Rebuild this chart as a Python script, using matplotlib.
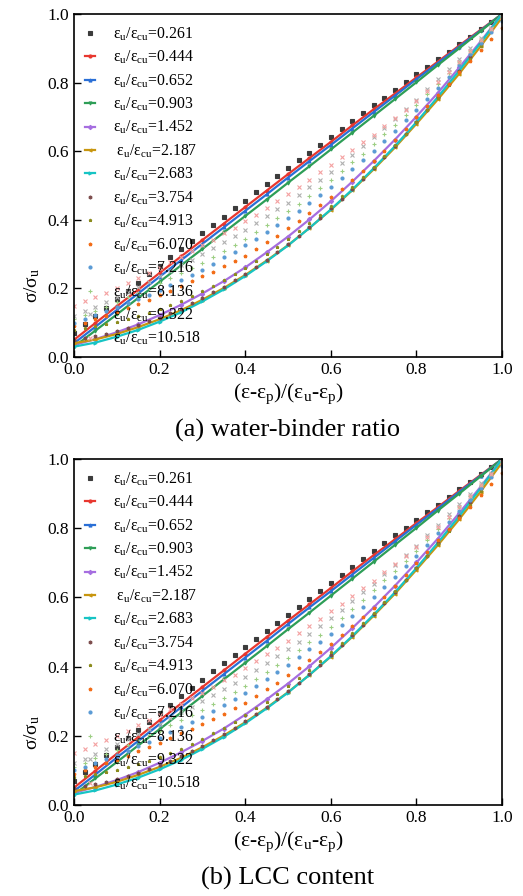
import numpy as np
import matplotlib.pyplot as plt

plt.rcParams['font.family'] = 'Liberation Serif'
plt.rcParams['mathtext.fontset'] = 'custom'
plt.rcParams['mathtext.rm'] = 'Liberation Serif'
plt.rcParams['mathtext.it'] = 'Liberation Serif:italic'

# strain ratios (legend) and normalised curves
ratios = ['0.261', '0.444', '0.652', '0.903', '1.452', '2.187', '2.683',
          '3.754', '4.913', '6.070', '7.216', '8.136', '9.322', '10.518']
x_coarse = np.linspace(0, 1, 21)   # series drawn as thick dotted lines
x_fine = np.linspace(0, 1, 41)     # series drawn as loose dots

y_0261 = [.070, .095, .119, .144, .168, .193, .217, .241, .266, .290, .314, .338, .362, .386,
          .409, .433, .456, .480, .503, .527, .550, .573, .596, .619, .642, .665, .688, .711,
          .734, .756, .779, .801, .824, .846, .868, .890, .912, .934, .956, .978, 1.0]
y_0444 = [.05, .099, .148, .196, .245, .293, .341, .389, .437, .485, .533, .58, .627, .675, .722, .768, .815, .861, .908, .954, 1.0]
y_0652 = [.04, .088, .137, .185, .234, .282, .33, .378, .426, .474, .523, .571, .618, .666, .714, .762, .81, .857, .905, .952, 1.0]
y_0903 = [.03, .077, .124, .172, .219, .267, .315, .363, .411, .459, .508, .556, .605, .654, .703, .752, .801, .851, .9, .95, 1.0]
y_1452 = [.035, .052, .072, .095, .122, .152, .185, .221, .261, .305, .351, .401, .454, .511, .571, .634, .701, .770, .844, .920, 1.0]
y_2187 = [.040, .051, .067, .087, .110, .136, .167, .201, .239, .281, .326, .376, .429, .486, .547, .611, .680, .751, .826, .906, .990]
y_2683 = [.030, .042, .059, .079, .103, .130, .162, .197, .236, .279, .325, .376, .430, .488, .550, .615, .685, .758, .835, .916, 1.0]
y_3754 = [.050, .055, .060, .067, .075, .083, .093, .104, .115, .128, .141, .156, .171, .188,
          .205, .223, .243, .263, .284, .307, .330, .354, .380, .406, .433, .461, .490, .520,
          .551, .583, .616, .650, .685, .721, .758, .796, .835, .875, .916, .957, 1.0]
y_4913 = [.080, .084, .089, .095, .102, .110, .118, .128, .139, .151, .163, .177, .191, .207,
          .223, .241, .259, .279, .299, .320, .343, .366, .390, .415, .441, .468, .496, .525,
          .555, .586, .618, .651, .685, .720, .755, .792, .830, .868, .908, .949, .990]
y_6070 = [.090, .100, .110, .120, .130, .142, .155, .167, .180, .193, .207, .221, .235, .249,
          .264, .279, .295, .314, .334, .354, .375, .397, .419, .442, .465, .490, .516, .543,
          .570, .601, .633, .666, .700, .732, .765, .797, .830, .862, .895, .927, .960]
y_7216 = [.100, .111, .122, .134, .145, .157, .170, .182, .195, .210, .225, .240, .255, .272,
          .290, .307, .325, .344, .364, .384, .405, .427, .450, .472, .495, .521, .547, .573,
          .600, .630, .660, .690, .720, .752, .785, .817, .850, .882, .915, .947, .980]
y_8136 = [.110, .122, .135, .147, .160, .174, .187, .201, .215, .230, .245, .260, .275, .292,
          .310, .327, .345, .365, .385, .405, .425, .447, .470, .492, .515, .541, .567, .593,
          .620, .649, .677, .706, .735, .766, .797, .829, .860, .892, .925, .957, .990]
y_9322 = [.120, .134, .147, .161, .175, .190, .205, .220, .235, .251, .268, .284, .300, .317,
          .335, .352, .370, .390, .410, .430, .450, .472, .495, .517, .540, .565, .590, .615,
          .640, .667, .695, .722, .750, .780, .810, .840, .870, .900, .930, .960, .990]
y_10518 = [.150, .162, .175, .187, .200, .215, .230, .245, .260, .276, .292, .309, .325, .342,
           .360, .377, .395, .415, .435, .455, .475, .496, .517, .538, .560, .582, .604, .626,
           .648, .672, .697, .721, .745, .774, .803, .832, .861, .893, .925, .957, .990]

curves = [y_0261, y_0444, y_0652, y_0903, y_1452, y_2187, y_2683,
          y_3754, y_4913, y_6070, y_7216, y_8136, y_9322, y_10518]

colors = ['#3c3c3c', '#e8372f', '#2a6fd6', '#2e9e57', '#a66ee0', '#c8960f', '#17c4c4',
          '#7b4a4a', '#8c8c1e', '#f26a13', '#5b9bd5', '#9dcf84', '#b0b0b0', '#f4a0a0']
markers = ['s', 'o', '^', 'v', 'D', '<', '>', 'h', '*', 'p', 'o', '+', 'x', 'x']
solid = [False, True, True, True, True, True, True, False, False, False, False, False, False, False]

captions = ['(a) water-binder ratio', '(b) LCC content']

fig = plt.figure(figsize=(5.23, 8.96), dpi=100)
ax_top = fig.add_axes([0.1415, 0.6016, 0.8185, 0.3828])
ax_bot = fig.add_axes([0.1415, 0.1016, 0.8185, 0.3861])

# bottom of the previous caption, cut by the page edge
fig.text(0.555, 1 + 5.5 / 896, '(c) curing period', ha='center', va='baseline', fontsize=19)

for ax, cap in zip([ax_top, ax_bot], captions):
    for i, yv in enumerate(curves):
        lab = 'ε$_\\mathrm{u}$/ε$_\\mathrm{cu}$=' + ratios[i]
        if ratios[i] == '2.187':
            lab = ' ' + lab
        xv = x_fine if len(yv) == 41 else x_coarse
        ls = '-' if solid[i] else 'none'
        ax.plot(xv, yv, linestyle=ls, lw=1.6, marker=markers[i], ms=2.2,
                mew=0.8, color=colors[i], label=lab)
    ax.set_xlim(0, 1)
    ax.set_ylim(0, 1)
    ax.set_xticks(np.arange(0, 1.01, 0.2))
    ax.set_yticks(np.arange(0, 1.01, 0.2))
    ax.tick_params(direction='in', length=5, width=1, labelsize=12.5, top=False, right=False)
    for s in ax.spines.values():
        s.set_linewidth(1.2)
    ax.set_xlabel('(ε-ε$_\\mathrm{p}$)/(ε$_\\mathrm{u}$-ε$_\\mathrm{p}$)', fontsize=15.5, labelpad=3)
    ax.set_ylabel('σ/σ$_\\mathrm{u}$', fontsize=14, labelpad=4)
    ax.yaxis.label.set_y(0.21)
    ax.legend(loc='upper left', frameon=False, fontsize=11.3, handlelength=0.6,
              handletextpad=1.15, labelspacing=0.385, borderaxespad=0.3,
              markerscale=1.0, borderpad=0.42)
    ax.text(0.5, -0.18, cap, transform=ax.transAxes, ha='center', va='top', fontsize=19)

fig.savefig('out.png', dpi=100)
